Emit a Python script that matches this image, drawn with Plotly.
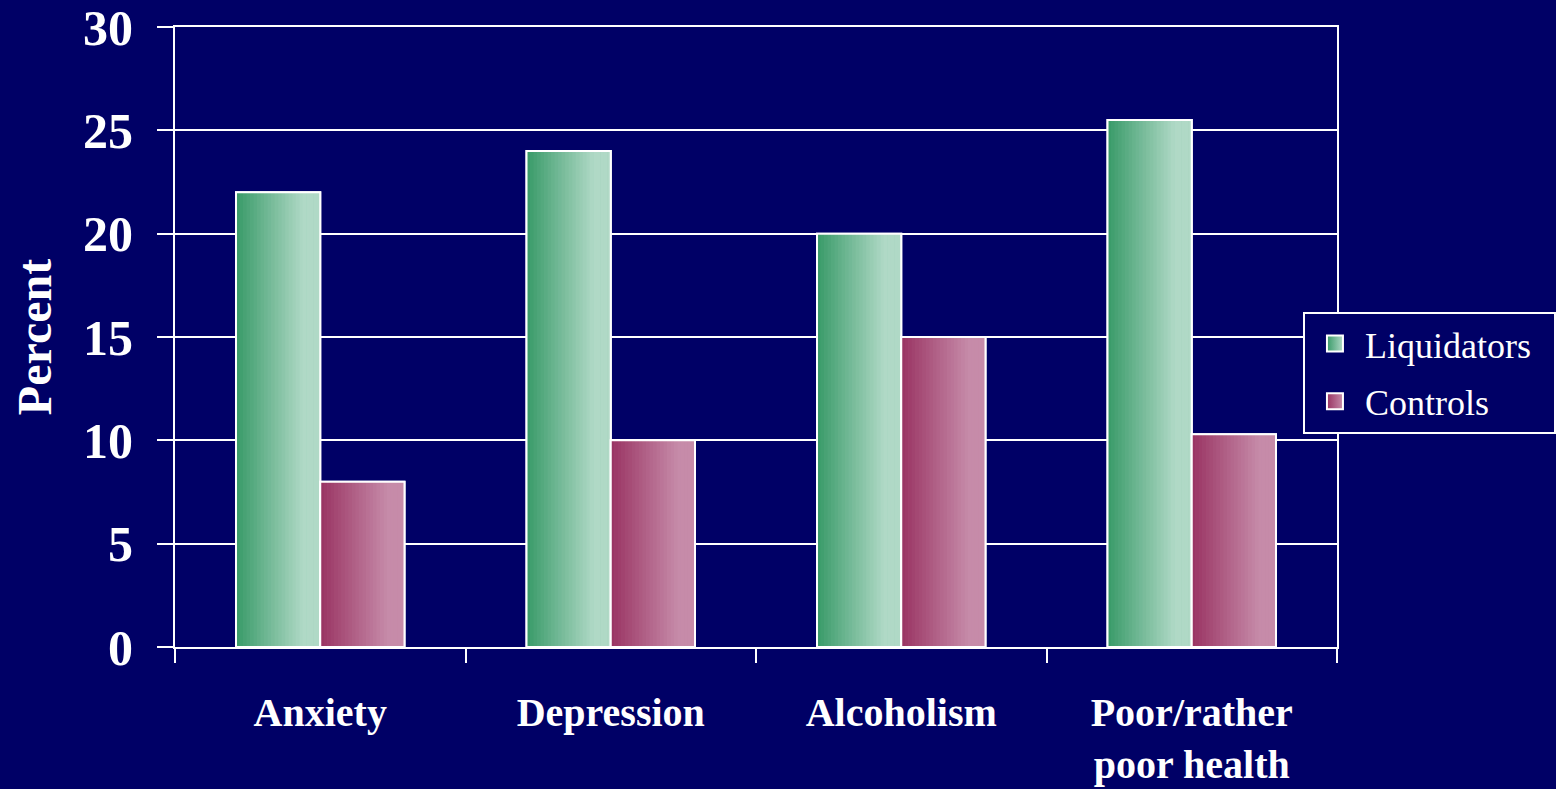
import plotly.graph_objects as go

# ---- data ----
categories = ["Anxiety", "Depression", "Alcoholism", "Poor/rather<br>poor health"]
liquidators = [22, 24, 20, 25.5]
controls = [8, 10, 15, 10.3]
y_ticks = [0, 5, 10, 15, 20, 25, 30]

# ---- style ----
BG = "#000066"
FONT = "Liberation Serif"
BAR_W = 0.29
N_STRIPS = 24
PAD = "\u00a0\u00a0"


def hex_to_rgb(h):
    h = h.lstrip("#")
    return tuple(int(h[i:i + 2], 16) for i in (0, 2, 4))


def lerp(c1, c2, t):
    a, b = hex_to_rgb(c1), hex_to_rgb(c2)
    return "rgb(%d,%d,%d)" % tuple(round(a[i] + (b[i] - a[i]) * t) for i in range(3))


series = [
    dict(name="Liquidators", values=liquidators, dark="#389a68", light="#b0d9c6",
         mid="#76bf9c", offset=-BAR_W),
    dict(name="Controls", values=controls, dark="#993362", light="#c68ba9",
         mid="#b26689", offset=0.0),
]

fig = go.Figure()

for s in series:
    # base bar
    fig.add_trace(go.Bar(
        x=categories, y=s["values"], name=s["name"], legendgroup=s["name"],
        showlegend=False,
        width=BAR_W, offset=s["offset"],
        marker=dict(color=s["mid"], line=dict(color="white", width=2)),
    ))
    # horizontal gradient strips
    step = BAR_W / N_STRIPS
    for k in range(N_STRIPS):
        t = min(1.0, (k + 0.5) / N_STRIPS / 0.8)
        fig.add_trace(go.Bar(
            x=categories, y=s["values"], showlegend=False, hoverinfo="skip",
            legendgroup=s["name"],
            width=step * 1.15 if k < N_STRIPS - 1 else step,
            offset=s["offset"] + k * step,
            marker=dict(color=lerp(s["dark"], s["light"], t), line=dict(width=0)),
        ))
    # white outline on top
    fig.add_trace(go.Bar(
        x=categories, y=s["values"], showlegend=False, hoverinfo="skip",
        legendgroup=s["name"],
        width=BAR_W, offset=s["offset"],
        marker=dict(color="rgba(0,0,0,0)", line=dict(color="white", width=2)),
    ))
    # legend entry (square swatch with gradient)
    fig.add_trace(go.Scatter(
        x=[categories[0]], y=[None], mode="markers", name=s["name"] + PAD,
        legendgroup=s["name"], showlegend=True, hoverinfo="skip",
        marker=dict(symbol="square", size=16, color=s["dark"],
                    gradient=dict(type="horizontal", color=s["light"]),
                    line=dict(color="white", width=2)),
    ))

fig.update_layout(
    width=1556, height=789,
    paper_bgcolor=BG, plot_bgcolor=BG,
    barmode="overlay",
    margin=dict(l=175, r=219, t=27, b=142, autoexpand=False),
    font=dict(family=FONT, color="white"),
    legend=dict(
        x=0.9707, y=0.541, xanchor="left", yanchor="top",
        bgcolor=BG, bordercolor="white", borderwidth=2,
        font=dict(family=FONT, size=36, color="white"),
        itemwidth=50, tracegroupgap=8, traceorder="grouped",
        itemsizing="trace",
    ),
    showlegend=True,
)

fig.update_xaxes(
    type="category", range=[-0.5, 3.5], automargin=False,
    tickson="boundaries", ticks="outside", ticklen=14, tickwidth=2, tickcolor="white",
    showline=True, linecolor="white", linewidth=2, mirror=True,
    showgrid=False, ticklabelstandoff=29,
    tickfont=dict(family=FONT, size=40, color="white", weight="bold"),
)

fig.update_yaxes(
    range=[0, 30], tickvals=y_ticks, ticktext=[str(v) for v in y_ticks],
    automargin=False,
    ticks="outside", ticklen=16, tickwidth=2, tickcolor="white",
    showline=True, linecolor="white", linewidth=2, mirror=True,
    showgrid=True, gridcolor="white", gridwidth=2, zeroline=False,
    ticklabelstandoff=14, ticklabeloverflow="allow",
    tickfont=dict(family=FONT, size=50, color="white", weight="bold"),
    title=dict(text="Percent", standoff=16,
               font=dict(family=FONT, size=48, color="white", weight="bold")),
)

fig.write_html(
    "out.html",
    config={"displayModeBar": False},
    post_script="document.body.style.margin='0';document.body.style.overflow='hidden';",
)
